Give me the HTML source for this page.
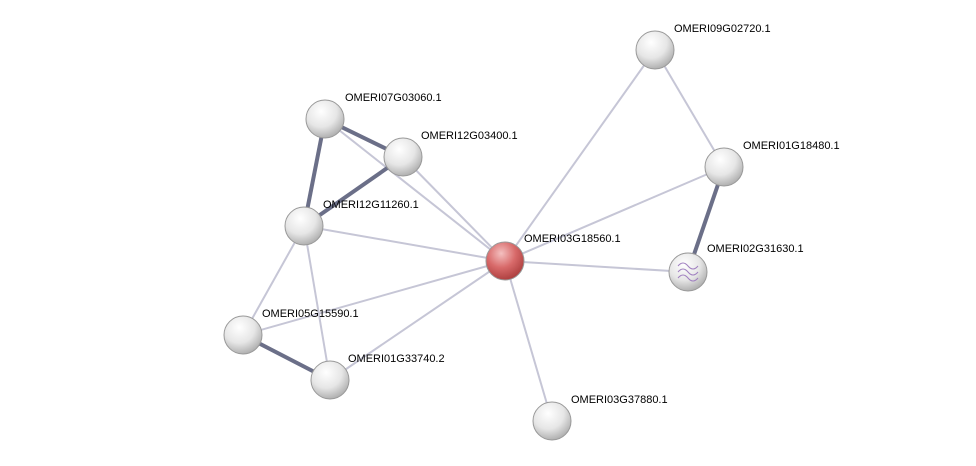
<!DOCTYPE html>
<html><head><meta charset="utf-8"><style>
html,body{margin:0;padding:0;background:#fff;}
svg{display:block;}
text{font-family:"Liberation Sans",sans-serif;font-size:11px;fill:#000;}
</style></head><body>
<svg width="976" height="466" viewBox="0 0 976 466" xmlns="http://www.w3.org/2000/svg">
<defs>
<radialGradient id="g" cx="0.4" cy="0.3" r="0.75">
<stop offset="0" stop-color="#ffffff"/><stop offset="0.55" stop-color="#e6e6e6"/><stop offset="1" stop-color="#a8a8a8"/>
</radialGradient>
<radialGradient id="r" cx="0.4" cy="0.3" r="0.75">
<stop offset="0" stop-color="#f4c0c0"/><stop offset="0.5" stop-color="#d86a6a"/><stop offset="1" stop-color="#a83a3a"/>
</radialGradient>
</defs>
<g stroke="#c6c6d6" stroke-width="2" fill="none">
<line x1="655" y1="50" x2="505" y2="261"/>
<line x1="655" y1="50" x2="724" y2="167"/>
<line x1="724" y1="167" x2="505" y2="261"/>
<line x1="505" y1="261" x2="688" y2="272"/>
<line x1="505" y1="261" x2="552" y2="421"/>
<line x1="505" y1="261" x2="304" y2="226"/>
<line x1="505" y1="261" x2="325" y2="119"/>
<line x1="505" y1="261" x2="403" y2="157"/>
<line x1="505" y1="261" x2="243" y2="335"/>
<line x1="505" y1="261" x2="330" y2="380"/>
<line x1="304" y1="226" x2="243" y2="335"/>
<line x1="304" y1="226" x2="330" y2="380"/>
</g>
<g stroke="#6b6f88" stroke-width="4" fill="none">
<line x1="325" y1="119" x2="304" y2="226"/>
<line x1="325" y1="119" x2="403" y2="157"/>
<line x1="403" y1="157" x2="304" y2="226"/>
<line x1="243" y1="335" x2="330" y2="380"/>
<line x1="724" y1="167" x2="688" y2="272"/>
</g>
<g stroke="#999" stroke-width="1">
<circle cx="655" cy="50" r="19" fill="url(#g)"/>
<circle cx="325" cy="119" r="19" fill="url(#g)"/>
<circle cx="403" cy="157" r="19" fill="url(#g)"/>
<circle cx="724" cy="167" r="19" fill="url(#g)"/>
<circle cx="304" cy="226" r="19" fill="url(#g)"/>
<circle cx="505" cy="261" r="19" fill="url(#r)"/>
<circle cx="688" cy="272" r="19" fill="url(#g)"/>
<circle cx="243" cy="335" r="19" fill="url(#g)"/>
<circle cx="330" cy="380" r="19" fill="url(#g)"/>
<circle cx="552" cy="421" r="19" fill="url(#g)"/>
</g>
<g stroke="#a080c0" stroke-width="1" fill="none">
<path d="M678 266 q5 -6 10 0 t10 0 M678 272 q5 -6 10 0 t10 0 M678 278 q5 -6 10 0 t10 0"/>
</g>
<text x="674" y="32">OMERI09G02720.1</text>
<text x="345" y="101">OMERI07G03060.1</text>
<text x="421" y="139">OMERI12G03400.1</text>
<text x="743" y="149">OMERI01G18480.1</text>
<text x="323" y="208">OMERI12G11260.1</text>
<text x="524" y="242">OMERI03G18560.1</text>
<text x="707" y="252">OMERI02G31630.1</text>
<text x="262" y="317">OMERI05G15590.1</text>
<text x="348" y="362">OMERI01G33740.2</text>
<text x="571" y="403">OMERI03G37880.1</text>
</svg>
</body></html>
